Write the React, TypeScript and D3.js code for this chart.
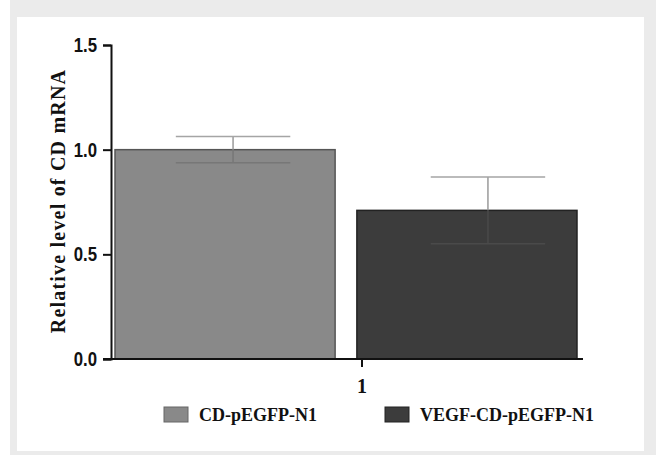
import * as d3 from 'd3';
import { useEffect, useRef } from 'react';

const groups = ['CD-pEGFP-N1', 'VEGF-CD-pEGFP-N1'];
const means = [1.0, 0.71];
const errors = [0.063, 0.16];
const barColors = ['#898989', '#3c3c3c'];
const yTicks = [0, 0.5, 1.0, 1.5];
const xTickLabel = '1';
const yLabel = 'Relative level of CD mRNA';

export default function App() {
  const svgRef = useRef(null);

  useEffect(() => {
    const svgElement = svgRef.current;
    if (!svgElement) return;
    d3.select(svgElement).selectAll('*').remove();

    const width = 656;
    const height = 455;
    const svg = d3.select(svgElement).attr('width', width).attr('height', height);

    // grey frame around the figure
    svg.append('rect').attr('x', 0).attr('y', 0).attr('width', width).attr('height', height).attr('fill', '#fff');
    svg.append('rect').attr('x', 10).attr('y', 0).attr('width', width - 10).attr('height', height).attr('fill', '#ebebeb');
    svg.append('rect').attr('x', 17).attr('y', 17).attr('width', 627).attr('height', 434).attr('fill', '#fff');

    const y = d3.scaleLinear().domain([0, 1.5]).range([359, 45]);
    const x = d3.scaleBand().domain(groups).range([115, 577]).paddingInner(0.09);

    const sans = '"Liberation Sans", Arial, sans-serif';
    const serif = '"Liberation Serif", "Times New Roman", serif';

    // bars
    svg
      .selectAll('rect.bar')
      .data(groups)
      .join('rect')
      .attr('class', 'bar')
      .attr('x', (d) => x(d)!)
      .attr('y', (d, i) => y(means[i]))
      .attr('width', x.bandwidth())
      .attr('height', (d, i) => y(0) - y(means[i]))
      .attr('fill', (d, i) => barColors[i])
      .attr('stroke', (d, i) => (i === 0 ? '#555' : '#222'))
      .attr('stroke-width', 1.5);

    // error bars (slightly off-centre in the original figure)
    const capW = x.bandwidth() * 0.52;
    const errShift = [8, 21];
    groups.forEach((g, i) => {
      const cx = x(g)! + x.bandwidth() / 2 + errShift[i];
      const hi = y(means[i] + errors[i]);
      const lo = y(means[i] - errors[i]);
      const mid = y(means[i]);
      svg.append('line').attr('x1', cx).attr('x2', cx).attr('y1', hi).attr('y2', mid)
        .attr('stroke', '#9a9a9a').attr('stroke-width', 1.5);
      svg.append('line').attr('x1', cx - capW / 2).attr('x2', cx + capW / 2).attr('y1', hi).attr('y2', hi)
        .attr('stroke', '#a5a5a5').attr('stroke-width', 1.5);
      const inner = i === 0 ? '#777' : '#4a4a4a';
      svg.append('line').attr('x1', cx).attr('x2', cx).attr('y1', mid).attr('y2', lo)
        .attr('stroke', inner).attr('stroke-width', 1.5);
      svg.append('line').attr('x1', cx - capW / 2).attr('x2', cx + capW / 2).attr('y1', lo).attr('y2', lo)
        .attr('stroke', inner).attr('stroke-width', 1.5);
    });

    // y axis
    const sx = 0.84;
    const yAxis = svg
      .append('g')
      .attr('transform', 'translate(111,0)')
      .call(d3.axisLeft(y).tickValues(yTicks).tickSize(8).tickPadding(6).tickFormat(d3.format('.1f')));
    yAxis.select('.domain').attr('stroke', '#111').attr('stroke-width', 2);
    yAxis.selectAll('.tick line').attr('stroke', '#111').attr('stroke-width', 2);
    yAxis
      .selectAll('.tick text')
      .attr('x', -14 / sx)
      .attr('transform', `scale(${sx},1)`)
      .attr('font-family', sans)
      .attr('font-weight', 'bold')
      .attr('font-size', 20)
      .attr('fill', '#111');

    // x axis
    svg.append('line').attr('x1', 103).attr('x2', 583).attr('y1', y(0)).attr('y2', y(0))
      .attr('stroke', '#111').attr('stroke-width', 2);
    const tickX = (x(groups[0])! + x.bandwidth() + x(groups[1])!) / 2 + 16;
    svg.append('line').attr('x1', tickX).attr('x2', tickX).attr('y1', y(0)).attr('y2', y(0) + 8)
      .attr('stroke', '#111').attr('stroke-width', 2);
    svg.append('text').attr('x', tickX).attr('y', 393).attr('text-anchor', 'middle')
      .attr('font-family', serif).attr('font-weight', 'bold').attr('font-size', 20).attr('fill', '#111')
      .text(xTickLabel);

    // y label
    svg.append('text')
      .attr('transform', 'translate(65,201) rotate(-90)')
      .attr('text-anchor', 'middle')
      .attr('font-family', serif)
      .attr('font-weight', 'bold')
      .attr('font-size', 20)
      .attr('letter-spacing', 1.2)
      .attr('fill', '#111')
      .text(yLabel);

    // legend
    const legendX = [164, 385];
    groups.forEach((g, i) => {
      svg.append('rect').attr('x', legendX[i]).attr('y', 407).attr('width', 24).attr('height', 15)
        .attr('fill', barColors[i]).attr('stroke', i === 0 ? '#666' : '#222').attr('stroke-width', 1);
      svg.append('text').attr('x', legendX[i] + 35).attr('y', 421)
        .attr('font-family', serif).attr('font-weight', 'bold').attr('font-size', 18).attr('fill', '#111')
        .text(g);
    });
  }, []);

  return <svg ref={svgRef} style={{ display: 'block', position: 'absolute', left: 0, top: 0 }} />;
}
